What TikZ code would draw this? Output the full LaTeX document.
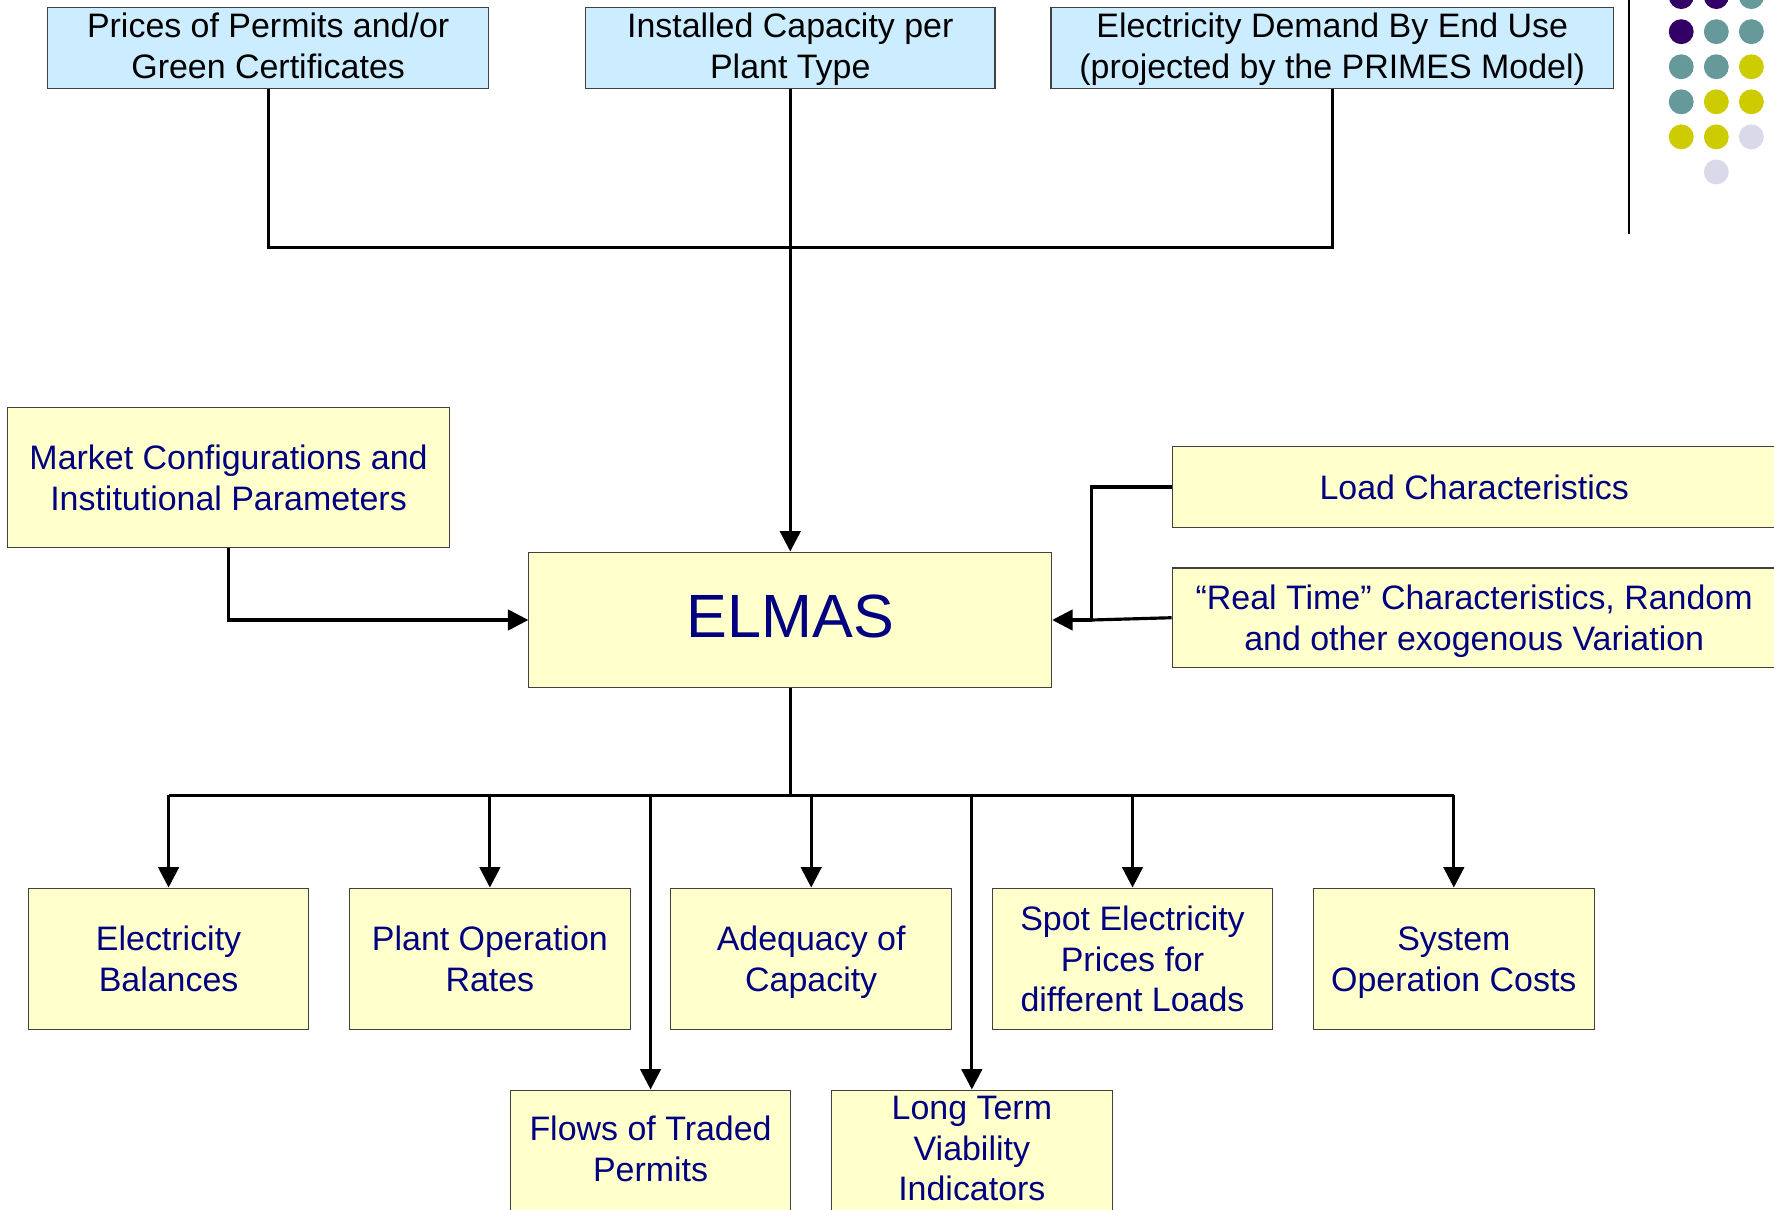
\documentclass[tikz,border=0pt]{standalone}
\usepackage{fontspec}
\setmainfont{Liberation Sans}
\usetikzlibrary{arrows.meta}
\definecolor{bluefill}{HTML}{CCECFF}
\definecolor{yelfill}{HTML}{FFFFCC}
\definecolor{navytext}{HTML}{000080}
\definecolor{boxline}{HTML}{404040}
\definecolor{dotpurple}{HTML}{330066}
\definecolor{dotteal}{HTML}{669999}
\definecolor{dotyellow}{HTML}{CCCC00}
\definecolor{dotlav}{HTML}{D9D9EA}
\tikzset{
  basebox/.style={draw=boxline, line width=0.5pt, align=center, inner sep=0pt,
    font=\fontsize{15}{18}\selectfont, text depth=0pt},
  bluebox/.style={basebox, fill=bluefill, text=black, text depth=2pt},
  yelbox/.style={basebox, fill=yelfill, text=navytext},
  txtonly/.style={align=center, inner sep=0pt, text=navytext, font=\fontsize{15}{18}\selectfont, text depth=0pt},
  conn/.style={line width=1.4pt, black},
  arr/.style={conn, -{Triangle[length=9pt,width=9pt]}},
  dot/.style={radius=5.5pt}
}
\begin{document}
\begin{tikzpicture}[x=0.5pt,y=-0.5pt]
\clip (0,0) rectangle (1568,1069);
\fill[white] (0,0) rectangle (1568,1069);

% top input boxes
\node[bluebox, minimum width=195pt, minimum height=35.5pt] (p1) at (237,42.5) {Prices of Permits and/or\\Green Certificates};
\node[bluebox, minimum width=181pt, minimum height=35.5pt] (p2) at (698.5,42.5) {Installed Capacity per\\Plant Type};
\node[bluebox, minimum width=248.5pt, minimum height=35.5pt] (p3) at (1177.5,42.5) {Electricity Demand By End Use\\(projected by the PRIMES Model)};

% central
\node[yelbox, minimum width=231pt, minimum height=60pt, font=\fontsize{27}{32}\selectfont,
  text depth=3pt] (elmas) at (698.5,548) {ELMAS};

% left / right inputs
\node[yelbox, minimum width=195pt, minimum height=62pt] (market) at (202,422) {Market Configurations and\\Institutional Parameters};
\node[yelbox, minimum width=267pt, minimum height=35.5pt] (load) at (1303,430.5) {Load Characteristics};
\node[yelbox, minimum width=267pt, minimum height=44pt] (rt) at (1303,546) {“Real Time” Characteristics, Random\\and other exogenous Variation};

% outputs row 1
\node[yelbox, minimum width=124pt, minimum height=62.5pt] (b1) at (149,847.5) {Electricity\\Balances};
\node[yelbox, minimum width=124pt, minimum height=62.5pt] (b2) at (433,847.5) {Plant Operation\\Rates};
\node[yelbox, minimum width=124pt, minimum height=62.5pt] (b3) at (717,847.5) {Adequacy of\\Capacity};
\node[yelbox, minimum width=124pt, minimum height=62.5pt] (b4) at (1001,847.5) {Spot Electricity\\Prices for\\different Loads};
\node[yelbox, minimum width=124pt, minimum height=62.5pt] (b5) at (1285,847.5) {System\\Operation Costs};

% outputs row 2 (cut at bottom)
\node[yelbox, minimum width=124pt, minimum height=70pt, anchor=north] (b6) at (575,963) {};
\node[txtonly] (b6t) at (575,1015) {Flows of Traded\\Permits};
\node[yelbox, minimum width=124pt, minimum height=70pt, anchor=north] (b7) at (859,963) {};
\node[txtonly] (b7t) at (859,1015) {Long Term\\Viability\\Indicators};

% connectors top
\coordinate (topbus) at (698.5,219);
\draw[conn] (p1.south) |- (topbus) -| (p3.south);
\draw[arr] (p2.south) -- (elmas.north);

% market
\draw[arr] (market.south) |- (elmas.west);

% right side
\coordinate (rj) at (965,548);
\draw[conn] (load.west) -| (rj);
\draw[conn] (rt.west) -- (rj);
\draw[arr] (rj) -- (elmas.east);

% outputs
\coordinate (hub) at (698.5,703);
\draw[conn] (elmas.south) -- (hub);
\draw[conn] (b1.north |- hub) -- (b5.north |- hub);
\foreach \b in {b1,b2,b3,b4,b5,b6,b7}{
  \draw[arr] (\b.north |- hub) -- (\b.north);
}

% decoration: vertical rule and dots
\draw[line width=1pt, black] (1440,0) -- (1440,207);
\foreach \x/\y/\c in {1486/-3/dotpurple,1517/-3/dotpurple,1548/-3/dotteal,
  1486/28/dotpurple,1517/28/dotteal,1548/28/dotteal,
  1486/59/dotteal,1517/59/dotteal,1548/59/dotyellow,
  1486/90/dotteal,1517/90/dotyellow,1548/90/dotyellow,
  1486/121/dotyellow,1517/121/dotyellow,1548/121/dotlav,
  1517/152/dotlav}{
  \fill[\c] (\x,\y) circle[dot];
}
\end{tikzpicture}
\end{document}
